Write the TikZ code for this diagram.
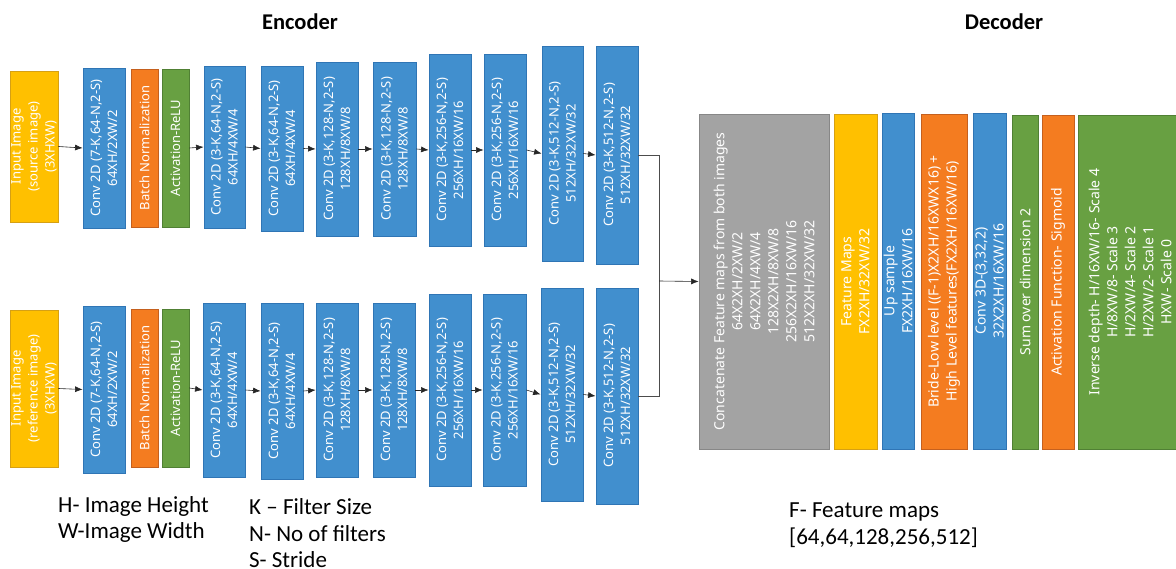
\documentclass[tikz,border=0pt]{standalone}
\usepackage{fontspec}
\setmainfont{Carlito}
\newfontfamily\boxfont{Noto Sans}
\usetikzlibrary{arrows.meta}
\definecolor{convblue}{RGB}{65,143,206}
\definecolor{convedge}{RGB}{47,117,181}
\definecolor{normorange}{RGB}{244,124,32}
\definecolor{normedge}{RGB}{197,96,30}
\definecolor{actgreen}{RGB}{104,160,66}
\definecolor{actedge}{RGB}{80,128,52}
\definecolor{inyellow}{RGB}{255,192,0}
\definecolor{inedge}{RGB}{214,160,20}
\definecolor{catgray}{RGB}{163,163,163}
\definecolor{catedge}{RGB}{135,135,135}

\begin{document}
\begin{tikzpicture}[x=1pt,y=-1pt,
    blk/.style={draw,rotate=90,inner sep=0pt,align=center,text=white,line width=.8pt,
      font=\boxfont\fontsize{13}{17}\selectfont},
    conv/.style={blk,fill=convblue,draw=convedge},
    norm/.style={blk,fill=normorange,draw=normedge},
    act/.style={blk,fill=actgreen,draw=actedge},
    inp/.style={blk,fill=inyellow,draw=inedge},
    cat/.style={blk,fill=catgray,draw=catedge},
    dec/.style={font=\boxfont\fontsize{14}{18}\selectfont},
    title/.style={font=\bfseries\fontsize{22.5}{26}\selectfont},
    legend/.style={anchor=base west,inner sep=0pt,font=\fontsize{23}{27}\selectfont},
    link/.style={-{Latex[length=7.5pt,width=6pt]},line width=.6pt,black!85},
    wire/.style={line width=.6pt,black!70}]
  \useasboundingbox (0,0) rectangle (1176,569);

  \node[title] (enc) at (300,22) {Encoder};
  \node[title] (decT) at (1004,22) {Decoder};

  % source image branch
  \node[inp,minimum width=151pt,minimum height=48pt] (in1) at (34,146.5) {Input Image\\(source image)\\(3XHXW)};
  \node[conv,minimum width=160pt,minimum height=42pt] (c1) at (104,148) {Conv 2D (7-K,64-N,2-S)\\64XH/2XW/2};
  \node[norm,minimum width=158pt,minimum height=27pt] (bn1) at (144.5,148) {Batch Normalization};
  \node[act,minimum width=158pt,minimum height=27pt] (r1) at (175.5,148) {Activation-ReLU};
  \node[conv,minimum width=162pt,minimum height=41pt] (c2) at (224.5,147) {Conv 2D (3-K,64-N,2-S)\\64XH/4XW/4};
  \node[conv,minimum width=165pt,minimum height=42pt] (c3) at (282,148.5) {Conv 2D (3-K,64-N,2-S)\\64XH/4XW/4};
  \node[conv,minimum width=174pt,minimum height=42pt] (c4) at (337,149) {Conv 2D (3-K,128-N,2-S)\\128XH/8XW/8};
  \node[conv,minimum width=174pt,minimum height=43pt] (c5) at (394.5,149) {Conv 2D (3-K,128-N,2-S)\\128XH/8XW/8};
  \node[conv,minimum width=192pt,minimum height=42pt] (c6) at (450,150) {Conv 2D (3-K,256-N,2-S)\\256XH/16XW/16};
  \node[conv,minimum width=192pt,minimum height=42pt] (c7) at (505,150) {Conv 2D (3-K,256-N,2-S)\\256XH/16XW/16};
  \node[conv,minimum width=215pt,minimum height=41pt] (c8) at (562.5,153.5) {Conv 2D (3-K,512-N,2-S)\\512XH/32XW/32};
  \node[conv,minimum width=218pt,minimum height=42pt] (c9) at (617,155) {Conv 2D (3-K,512-N,2-S)\\512XH/32XW/32};

  % reference image branch
  \node[inp,minimum width=157pt,minimum height=48pt] (in2) at (34,388.5) {Input Image\\(reference image)\\(3XHXW)};
  \node[conv,minimum width=167pt,minimum height=42pt] (b1) at (104,389.5) {Conv 2D (7-K,64-N,2-S)\\64XH/2XW/2};
  \node[norm,minimum width=158pt,minimum height=27pt] (bn2) at (144.5,388) {Batch Normalization};
  \node[act,minimum width=158pt,minimum height=27pt] (r2) at (175.5,388) {Activation-ReLU};
  \node[conv,minimum width=174pt,minimum height=42pt] (b2) at (224,390) {Conv 2D (3-K,64-N,2-S)\\64XH/4XW/4};
  \node[conv,minimum width=176pt,minimum height=42pt] (b3) at (282,391) {Conv 2D (3-K,64-N,2-S)\\64XH/4XW/4};
  \node[conv,minimum width=174pt,minimum height=42pt] (b4) at (337,390) {Conv 2D (3-K,128-N,2-S)\\128XH/8XW/8};
  \node[conv,minimum width=174pt,minimum height=42pt] (b5) at (394,390) {Conv 2D (3-K,128-N,2-S)\\128XH/8XW/8};
  \node[conv,minimum width=192pt,minimum height=42pt] (b6) at (450,390) {Conv 2D (3-K,256-N,2-S)\\256XH/16XW/16};
  \node[conv,minimum width=192pt,minimum height=43pt] (b7) at (504.5,390) {Conv 2D (3-K,256-N,2-S)\\256XH/16XW/16};
  \node[conv,minimum width=213pt,minimum height=42pt] (b8) at (562,394.5) {Conv 2D (3-K,512-N,2-S)\\512XH/32XW/32};
  \node[conv,minimum width=216pt,minimum height=42pt] (b9) at (617,396) {Conv 2D (3-K,512-N,2-S)\\512XH/32XW/32};

  \foreach \a/\b in {in1/c1,r1/c2,c2/c3,c3/c4,c4/c5,c5/c6,c6/c7,c7/c8,c8/c9,
                     in2/b1,r2/b2,b2/b3,b3/b4,b4/b5,b5/b6,b6/b7,b7/b8,b8/b9}
    {\draw[link] (\a.south) -- (\b.north);}

  % decoder
  \node[cat,dec,minimum width=335pt,minimum height=130pt] (cat) at (764,281.5)
    {Concatenate Feature maps from both images\\64X2XH/2XW/2\\64X2XH/4XW/4\\128X2XH/8XW/8\\256X2XH/16XW/16\\512X2XH/32XW/32};
  \node[inp,dec,minimum width=335pt,minimum height=43pt] (fm) at (855.5,281.5) {Feature Maps\\FX2XH/32XW/32};
  \node[conv,dec,minimum width=336pt,minimum height=32pt] (up) at (898,281) {Up sample\\FX2XH/16XW/16};
  \node[norm,dec,minimum width=335pt,minimum height=46pt] (br) at (944,281.5)
    {Bride-Low level ((F-1)X2XH/16XWX16) +\\High Level features(FX2XH/16XW/16)};
  \node[conv,dec,minimum width=336pt,minimum height=33pt] (c3d) at (989.5,281) {Conv 3D-(3,32,2)\\32X2XH/16XW/16};
  \node[act,dec,minimum width=334pt,minimum height=26pt] (sum) at (1025,282) {Sum over dimension 2};
  \node[norm,dec,minimum width=334pt,minimum height=32pt] (sig) at (1058,282) {Activation Function- Sigmoid};
  \node[act,dec,minimum width=334pt,minimum height=104pt] (inv) at (1130,282)
    {Inverse depth- H/16XW/16- Scale 4\\H/8XW/8- Scale 3\\H/2XW/4- Scale 2\\H/2XW/2- Scale 1\\HXW- Scale 0};

  \coordinate (jn) at (659,281);
  \draw[wire] (c9.south) -| (jn);
  \draw[wire] (b9.south) -| (jn);
  \draw[link] (jn) -- (cat.north);

  % legend
  \node[legend] (lh) at (58,512) {H- Image Height};
  \node[legend] (lw) at (58,538) {W-Image Width};
  \node[legend] (lk) at (249,514) {K -- Filter Size};
  \node[legend] (ln) at (249,541) {N- No of filters};
  \node[legend] (ls) at (249,567) {S- Stride};
  \node[legend] (lf) at (789,517) {F- Feature maps};
  \node[legend] (lv) at (789,544) {[64,64,128,256,512]};
\end{tikzpicture}
\end{document}
